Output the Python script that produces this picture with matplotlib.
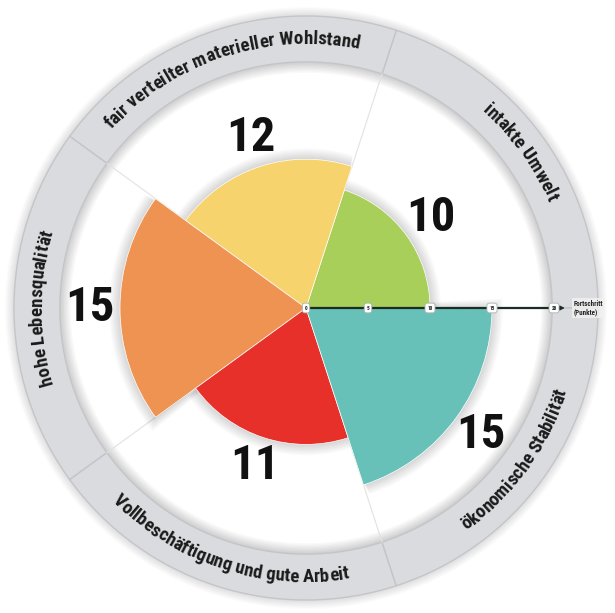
import numpy as np
import matplotlib
matplotlib.use('Agg')
import matplotlib.pyplot as plt
from matplotlib.font_manager import FontProperties

# Data (counter-clockwise from the right-hand axis)
categories = ['intakte Umwelt', 'fair verteilter materieller Wohlstand',
              'hohe Lebensqualität', 'Vollbeschäftigung und gute Arbeit',
              'ökonomische Stabilität']
values = [10, 12, 15, 11, 15]
colors = ['#a8cf5a', '#f6d36c', '#ef9352', '#e8302a', '#68c1b8']
axis_ticks = [0, 5, 10, 15, 20]
axis_label = 'Fortschritt\n(Punkte)'

FONT = ['Liberation Sans Narrow', 'Roboto Condensed', 'DejaVu Sans']
PX_PER_UNIT = 12.4          # pixels per point of "Fortschritt"
RING_IN, RING_OUT = 19.85, 23.55
DPI = 100


def fprop(size):
    return FontProperties(family=FONT, weight='bold', stretch='condensed', size=size)


fig = plt.figure(figsize=(6.15, 6.13), dpi=DPI)
size = 612
ax = fig.add_axes([(306 - size / 2) / 615, (305 - size / 2) / 613, size / 615, size / 613],
                  projection='polar')
ax.set_ylim(0, (size / 2) / PX_PER_UNIT)
ax.set_axis_off()

n = len(values)
step = 2 * np.pi / n
theta = np.arange(n) * step + step / 2
vals = np.array(values, dtype=float)

# ring shadow + ring
for k in range(1, 9):
    ax.bar(0, 0.11 * k, width=2 * np.pi, bottom=RING_IN - 0.11 * k, color='black',
           alpha=0.022, linewidth=0, zorder=1)
    ax.bar(0, 0.09 * k, width=2 * np.pi, bottom=RING_OUT, color='black',
           alpha=0.014, linewidth=0, zorder=1)
ax.bar(theta, RING_OUT - RING_IN, width=step, bottom=RING_IN, color='#dadbdf',
       edgecolor='#c4c5c9', linewidth=1.0, zorder=2)

# thin divider lines between sectors
for a in np.arange(1, n) * step:
    ax.plot([a, a], [0, RING_IN], color='#e2e2e2', lw=0.8, zorder=2)

# soft shadow behind sectors
for k in range(1, 9):
    ax.bar(theta + 0.004 * k, vals + 0.11 * k, width=step + 0.004 * k, color='black',
           alpha=0.02, linewidth=0, zorder=3)

ax.bar(theta, vals, width=step, color=colors, edgecolor='white', linewidth=0.5, zorder=4)

# value labels
num_fp = fprop(35)
for t, v in zip(theta, vals):
    ax.text(t, v + 2.4, f'{v:.0f}', fontproperties=num_fp, ha='center', va='center',
            color='#111111', zorder=6)

# curved category labels in the ring
fig.canvas.draw()
renderer = fig.canvas.get_renderer()
lab_fp = fprop(13.6)


def text_w(s):
    if not s.strip():
        return 0.0
    w, h, d = renderer.get_text_width_height_descent(s, lab_fp, ismath=False)
    return w


r_mid = (RING_IN + RING_OUT) / 2
xh = 0.52 * lab_fp.get_size_in_points() * DPI / 72 / PX_PER_UNIT
for t, label in zip(theta, categories):
    clockwise = np.degrees(t) < 200
    total = text_w(label)
    r_base = r_mid - xh / 2 if clockwise else r_mid + xh / 2
    r_px = r_base * PX_PER_UNIT
    for i, ch in enumerate(label):
        if ch == ' ':
            continue
        c = text_w(label[:i + 1]) - text_w(ch) / 2
        delta = (c - total / 2) / r_px
        ang = t - delta if clockwise else t + delta
        rot = np.degrees(ang) - 90 if clockwise else np.degrees(ang) + 90
        ax.text(ang, r_base, ch, fontproperties=lab_fp, rotation=rot,
                rotation_mode='anchor', ha='center', va='baseline',
                color='#1a1a1a', zorder=6)

# progress axis
ax.plot([0, 0], [0, axis_ticks[-1]], color='#1d2b25', lw=1.6, zorder=7)
ax.annotate('', xy=(0, 21.1), xytext=(0, 20.2),
            arrowprops=dict(arrowstyle='-|>', color='#1d2b25', lw=1.2, mutation_scale=6),
            zorder=7)
tick_fp = fprop(3.8)
for tk in axis_ticks:
    ax.text(0, tk, str(tk), fontproperties=tick_fp, ha='center', va='center', color='#222222',
            zorder=8, bbox=dict(boxstyle='round,pad=0.45', fc='white', ec='#a9b3b0', lw=0.6))
ax.text(0, 21.6, axis_label, fontproperties=fprop(5),
        ha='left', va='center', color='#222222', linespacing=1.05, zorder=8,
        bbox=dict(boxstyle='square,pad=0.3', fc='#f2f2f2', ec='none', alpha=0.8))

fig.savefig('out.png', dpi=DPI)
